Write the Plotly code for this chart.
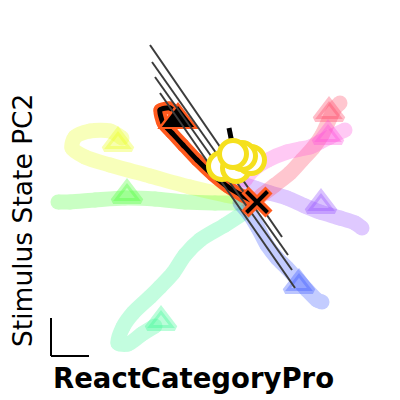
import plotly.graph_objects as go

# neural trajectories, PC1 on x and PC2 on y (arbitrary units)
yellow_x = [-0.7, -3.2, -6.7, -10.7, -14.7, -17.2, -18.5, -18.2, -16.7, -14.7, -13.5]
yellow_y = [0.2, 0.7, 1.5, 2.6, 3.7, 4.5, 5.4, 6.5, 7.1, 7.1, 6.4]
green_x = [-1.2, -4.2, -7.2, -10.2, -13.2, -16.2, -18.7, -19.9]
green_y = [-0.1, -0.1, 0.0, 0.3, 0.4, 0.2, 0.0, 0.0]
mint_x = [-1.2, -3.2, -5.7, -7.2, -8.4, -9.7, -10.7, -12.4, -13.4, -13.9, -12.9, -11.5, -10.2]
mint_y = [-1.0, -2.3, -3.8, -5.3, -7.1, -8.5, -9.5, -11.1, -12.5, -14.1, -14.2, -13.2, -12.4]
blue_x = [-1.7, -0.7, 0.1, 1.0, 2.0, 3.0, 4.1, 5.0, 6.0, 6.5]
blue_y = [-0.1, -1.3, -2.6, -4.3, -5.6, -6.6, -7.8, -8.8, -9.8, -10.0]
purple_x = [-1.7, -0.2, 1.3, 3.0, 4.8, 6.3, 8.3, 9.8, 10.5]
purple_y = [1.9, 1.4, 0.9, 0.4, -0.4, -1.0, -1.6, -2.1, -2.6]
salmon_x = [-0.7, 0.5, 1.8, 3.3, 4.5, 5.6, 6.5, 7.3, 7.8, 8.3]
salmon_y = [-0.3, 0.7, 1.7, 2.9, 4.2, 5.4, 6.7, 8.4, 9.4, 9.9]
magenta_x = [-1.2, -0.4, 1.1, 3.0, 4.3, 5.3, 6.3, 7.3, 8.8]
magenta_y = [2.2, 3.2, 4.2, 5.0, 5.3, 5.5, 6.0, 6.5, 7.2]

# triangle marks on each trajectory
tri_x = [-13.9, -13.0, -9.6, 4.2, 6.4, 7.2, 7.1]
tri_y = [5.9, 0.7, -12.0, -8.3, -0.3, 8.9, 6.6]
cond_colors = ["#ebff1e", "#50ff3c", "#3cfa96", "#3c5aff", "#9650ff", "#ff4664", "#ff50dc"]
cond_rgb = ["235,255,30", "80,255,60", "60,250,150", "60,90,255", "150,80,255", "255,70,100", "255,80,220"]

# highlighted trajectory
main_x = [-7.7, -8.7, -9.7, -9.4, -8.5, -7.4, -6.0, -4.4, -2.9, -1.4, 0.0]
main_y = [8.5, 9.4, 9.2, 7.9, 6.9, 5.7, 4.2, 2.7, 1.5, 0.6, -0.1]
main_start = (-7.9, 8.2)
main_end = (0.0, 0.0)

# direction lines
dir_x0 = [-10.7, -10.5, -10.2, -9.7]
dir_y0 = [15.7, 14.0, 12.5, 10.9]
dir_x1 = [2.5, 3.1, 3.5, 3.8]
dir_y1 = [-3.5, -5.3, -6.8, -8.6]
seg_x = [-2.8, -1.8]
seg_y = [7.4, 2.4]

# response points
ring_x = [-3.5, -2.1, -0.6, -1.5, -2.4]
ring_y = [3.6, 3.4, 4.2, 4.6, 4.8]

scalebar_x0 = -20.6
scalebar_y0 = -15.4
scalebar_len = 3.8

paths = [
    (yellow_x, yellow_y), (green_x, green_y), (mint_x, mint_y), (blue_x, blue_y),
    (purple_x, purple_y), (salmon_x, salmon_y), (magenta_x, magenta_y),
]

fig = go.Figure()

for (px, py), col in zip(paths, cond_colors):
    fig.add_trace(go.Scatter(
        x=px, y=py, mode="lines+markers", opacity=0.3,
        line=dict(color=col, width=15, shape="spline", smoothing=0.8),
        marker=dict(color=col, size=15),
    ))

for i in range(len(tri_x)):
    fig.add_trace(go.Scatter(
        x=[tri_x[i]], y=[tri_y[i]], mode="markers",
        marker=dict(symbol="triangle-up", size=24, color=f"rgba({cond_rgb[i]},0.35)",
                    line=dict(color=f"rgba({cond_rgb[i]},0.35)", width=6)),
    ))

# orange outline then black trajectory
for col, w in [("#ff5a1e", 13), ("black", 5)]:
    fig.add_trace(go.Scatter(
        x=main_x, y=main_y, mode="lines+markers",
        line=dict(color=col, width=w, shape="spline", smoothing=0.6),
        marker=dict(color=col, size=w),
    ))
fig.add_trace(go.Scatter(
    x=[main_start[0]], y=[main_start[1]], mode="markers",
    marker=dict(symbol="triangle-up", size=36, color="#ff5a1e"),
))
fig.add_trace(go.Scatter(
    x=[main_start[0]], y=[main_start[1]], mode="markers",
    marker=dict(symbol="triangle-up", size=28, color="black"),
))

dx, dy = [], []
for i in range(len(dir_x0)):
    dx += [dir_x0[i], dir_x1[i], None]
    dy += [dir_y0[i], dir_y1[i], None]
fig.add_trace(go.Scatter(x=dx, y=dy, mode="lines", line=dict(color="#3c3c3c", width=2)))

fig.add_trace(go.Scatter(x=seg_x, y=seg_y, mode="lines", line=dict(color="black", width=5)))

fig.add_trace(go.Scatter(
    x=[main_end[0]], y=[main_end[1]], mode="markers",
    marker=dict(symbol="x-thin", size=24, line=dict(color="#ff5a1e", width=10)),
))
fig.add_trace(go.Scatter(
    x=[main_end[0]], y=[main_end[1]], mode="markers",
    marker=dict(symbol="x-thin", size=21, line=dict(color="black", width=4)),
))

fig.add_trace(go.Scatter(
    x=ring_x, y=ring_y, mode="markers",
    marker=dict(symbol="circle", size=27, color="white", line=dict(color="#f5e01e", width=5)),
))

# scale bar
fig.add_shape(type="line", x0=scalebar_x0, y0=scalebar_y0, x1=scalebar_x0, y1=scalebar_y0 + scalebar_len,
              line=dict(color="black", width=2))
fig.add_shape(type="line", x0=scalebar_x0, y0=scalebar_y0, x1=scalebar_x0 + scalebar_len, y1=scalebar_y0,
              line=dict(color="black", width=2))

fig.add_annotation(text="Stimulus State PC2", xref="paper", yref="paper", x=0.035, y=0.4675,
                   textangle=-90, showarrow=False, xanchor="center", yanchor="middle",
                   font=dict(family="DejaVu Sans", size=26.5, color="black"))
fig.add_annotation(text="ReactCategoryPro", xref="paper", yref="paper", x=0.4625, y=0.075,
                   showarrow=False, xanchor="center", yanchor="middle",
                   font=dict(family="DejaVu Sans", size=27.5, color="black", weight="bold"))

# page has an 8px body margin, ranges are set so the plot lines up with the window
fig.update_layout(
    width=400, height=400,
    margin=dict(l=0, r=0, t=0, b=0),
    showlegend=False,
    plot_bgcolor="white", paper_bgcolor="white",
    xaxis=dict(range=[-24.9, 15.1], visible=False),
    yaxis=dict(range=[-20.6, 19.4], visible=False),
)

fig.write_html("out.html")
